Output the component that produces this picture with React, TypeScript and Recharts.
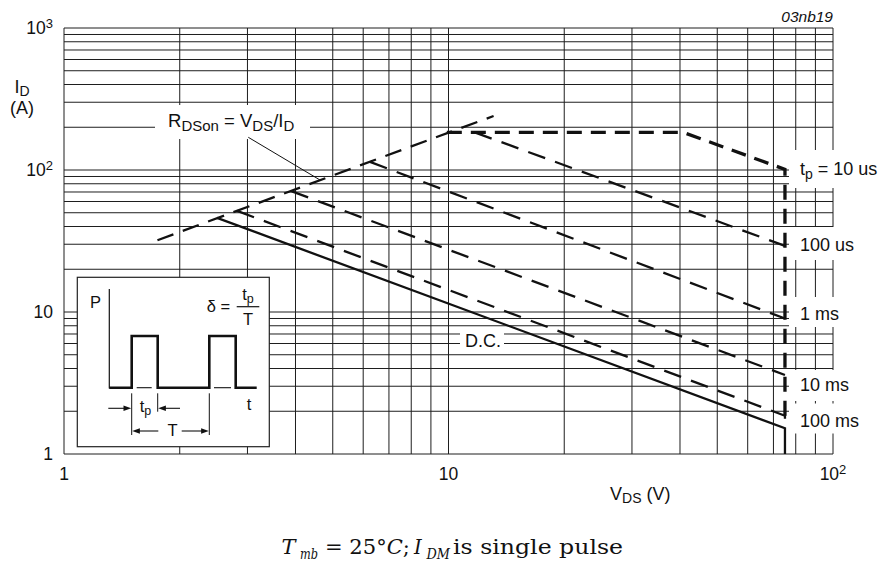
import React from "react";
import { Line, LineChart, ReferenceLine, XAxis, YAxis } from "recharts";

interface Pt { v: number; i: number }

// safe operating area limits (V_DS in V, I_D in A)
const rdsonLimit: Pt[] = [{ v: 1.75, i: 32 }, { v: 13.1, i: 240 }];
const pulse10us: Pt[] = [{ v: 9.9, i: 184 }, { v: 40.8, i: 184 }, { v: 75, i: 101 }, { v: 75, i: 1.86 }];
const pulse100us: Pt[] = [{ v: 11.7, i: 184 }, { v: 75, i: 29.2 }];
const pulse1ms: Pt[] = [{ v: 6.25, i: 114 }, { v: 75, i: 9.0 }];
const pulse10ms: Pt[] = [{ v: 3.9, i: 71 }, { v: 75, i: 3.6 }];
const pulse100ms: Pt[] = [{ v: 2.82, i: 51.5 }, { v: 75, i: 1.86 }, { v: 75, i: 1.52 }];
const dcLimit: Pt[] = [{ v: 2.5, i: 46 }, { v: 75, i: 1.52 }, { v: 75, i: 1 }];

const xTicks = [1, 10, 100];
const yTicks = [1, 10, 100, 1000];
const xGrid = [1, 2, 3, 4, 5, 6, 7, 8, 9, 10, 20, 30, 40, 50, 60, 70, 80, 90, 100];
const yGrid = [
  1, 2, 3, 4, 5, 6, 7, 8, 9, 10, 20, 30, 40, 50, 60, 70, 80, 90,
  100, 200, 300, 400, 500, 600, 700, 800, 900, 1000,
];

const FONT = "'Liberation Sans', Arial, Helvetica, sans-serif";
const SERIF = "'DejaVu Serif', 'Liberation Serif', serif";
const INK = "#111";

const tickText = (value: number) => {
  if (value <= 10) return <>{String(value)}</>;
  const exp = Math.round(Math.log10(value));
  return (
    <>
      10<tspan dy={-6} fontSize={13}>{exp}</tspan>
    </>
  );
};

const renderXTick = (props: any) => {
  const { x, y, payload } = props;
  return (
    <text x={x} y={y + 26} textAnchor="middle" fontSize={17.5} fontFamily={FONT} fill={INK}>
      {tickText(payload.value)}
    </text>
  );
};

const renderYTick = (props: any) => {
  const { x, y, payload } = props;
  return (
    <text x={x - 11} y={y + 6} textAnchor="end" fontSize={17.5} fontFamily={FONT} fill={INK}>
      {tickText(payload.value)}
    </text>
  );
};

const Overlay: React.FC = () => (
  <svg
    width={882}
    height={570}
    style={{ position: "absolute", left: 0, top: 0, pointerEvents: "none" }}
    fontFamily={FONT}
  >
    {/* axis titles */}
    <text x={22} y={93} textAnchor="middle" fontSize={18} fill={INK}>
      I<tspan dy={3} fontSize={14}>D</tspan>
    </text>
    <text x={22} y={114} textAnchor="middle" fontSize={18} fill={INK}>(A)</text>
    <text x={610} y={499.5} fontSize={18} fill={INK}>
      V<tspan dy={3} fontSize={14}>DS</tspan><tspan dy={-3}> (V)</tspan>
    </text>
    <text x={833} y={21.5} textAnchor="end" fontSize={15.5} fontStyle="italic" fill={INK}>03nb19</text>

    {/* R_DSon annotation */}
    <rect x={155} y={105} width={155} height={34} fill="#fff" />
    <text x={168} y={126.7} fontSize={18.5} fill={INK}>
      R<tspan dy={4} fontSize={15}>DSon</tspan>
      <tspan dy={-4}> = V</tspan>
      <tspan dy={4} fontSize={15}>DS</tspan>
      <tspan dy={-4}>/I</tspan>
      <tspan dy={4} fontSize={15}>D</tspan>
    </text>
    <line x1={248.3} y1={137.3} x2={320} y2={180} stroke={INK} strokeWidth={1} />

    {/* D.C. */}
    <rect x={460} y={332} width={44} height={20} fill="#fff" />
    <text x={465} y={346.7} fontSize={18} fill={INK}>D.C.</text>

    {/* pulse duration labels */}
    <rect x={789} y={150} width={93} height={38} fill="#fff" />
    <text x={800} y={175} fontSize={18} fill={INK}>
      t<tspan dy={4} fontSize={14}>p</tspan><tspan dy={-4}> = 10 us</tspan>
    </text>
    <rect x={789} y={227} width={93} height={33} fill="#fff" />
    <text x={800} y={250.7} fontSize={18} fill={INK}>100 us</text>
    <rect x={789} y={297} width={93} height={30} fill="#fff" />
    <text x={800} y={320} fontSize={18} fill={INK}>1 ms</text>
    <rect x={789} y={370} width={93} height={31} fill="#fff" />
    <text x={800} y={390.7} fontSize={18} fill={INK}>10 ms</text>
    <rect x={789} y={403.5} width={93} height={30} fill="#fff" />
    <text x={800} y={426.7} fontSize={18} fill={INK}>100 ms</text>

    {/* inset: pulse definition */}
    <rect x={77.3} y={277.3} width={192} height={169.4} fill="#fff" stroke="#222" strokeWidth={1.2} />
    <text x={90} y={308.3} fontSize={16.5} fill={INK}>P</text>
    <line x1={109.3} y1={289} x2={109.3} y2={388.5} stroke={INK} strokeWidth={1.2} />
    <path
      d="M109.3,387.7 H131.7 V336 H157.7 V387.7 H209.3 V336 H235.7 V387.7 H256.7"
      fill="none"
      stroke={INK}
      strokeWidth={2.6}
    />
    <line x1={136.7} y1={387.7} x2={151.7} y2={387.7} stroke={INK} strokeWidth={1.1} />
    <line x1={214} y1={387.7} x2={231} y2={387.7} stroke={INK} strokeWidth={1.1} />
    <text x={206.7} y={311.7} fontSize={16.5} fill={INK}>δ =</text>
    <line x1={236.7} y1={306.7} x2={259.3} y2={306.7} stroke={INK} strokeWidth={1.2} />
    <text x={248} y={300} textAnchor="middle" fontSize={16.5} fill={INK}>
      t<tspan dy={3} fontSize={12.5}>p</tspan>
    </text>
    <text x={248} y={325} textAnchor="middle" fontSize={16.5} fill={INK}>T</text>
    <text x={249} y={410} textAnchor="middle" fontSize={16.5} fill={INK}>t</text>

    <line x1={131.7} y1={393.3} x2={131.7} y2={435} stroke={INK} strokeWidth={1} />
    <line x1={157.7} y1={393.3} x2={157.7} y2={411.7} stroke={INK} strokeWidth={1} />
    <line x1={209.3} y1={393.3} x2={209.3} y2={435} stroke={INK} strokeWidth={1} />

    <line x1={108.3} y1={408.3} x2={125} y2={408.3} stroke={INK} strokeWidth={1.1} />
    <polygon points="131.2,408.3 123.5,405.6 123.5,411" fill={INK} />
    <line x1={180} y1={408.3} x2={164} y2={408.3} stroke={INK} strokeWidth={1.1} />
    <polygon points="158.2,408.3 165.9,405.6 165.9,411" fill={INK} />
    <text x={145.5} y={411.7} textAnchor="middle" fontSize={16.5} fill={INK}>
      t<tspan dy={3} fontSize={12.5}>p</tspan>
    </text>

    <polygon points="132.2,431 139.9,428.3 139.9,433.7" fill={INK} />
    <line x1={139} y1={431} x2={158.3} y2={431} stroke={INK} strokeWidth={1.1} />
    <line x1={181.7} y1={431} x2={202} y2={431} stroke={INK} strokeWidth={1.1} />
    <polygon points="208.8,431 201.1,428.3 201.1,433.7" fill={INK} />
    <text x={172.5} y={436} textAnchor="middle" fontSize={16.5} fill={INK}>T</text>

    {/* caption */}
    <g fontFamily={SERIF} fontSize={19.5} fill={INK}>
      <text x={281.5} y={554} fontStyle="italic" textLength={14} lengthAdjust="spacingAndGlyphs">T</text>
      <text x={300} y={558.5} fontStyle="italic" fontSize={14} textLength={18} lengthAdjust="spacingAndGlyphs">mb</text>
      <text x={325} y={554} textLength={85} lengthAdjust="spacingAndGlyphs">
        = 25°<tspan fontStyle="italic">C</tspan>;
      </text>
      <text x={414} y={554} fontStyle="italic">I</text>
      <text x={426.5} y={558.5} fontStyle="italic" fontSize={14} textLength={23.5} lengthAdjust="spacingAndGlyphs">DM</text>
      <text x={453} y={554} textLength={170} lengthAdjust="spacingAndGlyphs">is single pulse</text>
    </g>
  </svg>
);

const App: React.FC = () => {
  return (
    <div style={{ position: "absolute", left: 0, top: 0, width: 882, height: 570, background: "#fff" }}>
      <LineChart width={882} height={570} margin={{ top: 28, right: 49, bottom: 86, left: 0 }}>
        <XAxis
          dataKey="v"
          type="number"
          scale="log"
          domain={[1, 100]}
          allowDataOverflow
          ticks={xTicks}
          interval={0}
          tick={renderXTick}
          tickLine={false}
          axisLine={false}
          tickSize={0}
          tickMargin={0}
          height={30}
        />
        <YAxis
          type="number"
          scale="log"
          domain={[1, 1000]}
          allowDataOverflow
          ticks={yTicks}
          interval={0}
          tick={renderYTick}
          tickLine={false}
          axisLine={false}
          tickSize={0}
          tickMargin={0}
          width={64}
        />
        {xGrid.map((v) => (
          <ReferenceLine key={`x${v}`} x={v} stroke="#1e1e1e" strokeWidth={1} />
        ))}
        {yGrid.map((v) => (
          <ReferenceLine key={`y${v}`} y={v} stroke="#1e1e1e" strokeWidth={1} />
        ))}
        <Line data={rdsonLimit} dataKey="i" stroke={INK} strokeWidth={2.3} strokeDasharray="17 10" dot={false} isAnimationActive={false} />
        <Line data={pulse10us} dataKey="i" stroke={INK} strokeWidth={3.3} strokeDasharray="15 9" dot={false} isAnimationActive={false} />
        <Line data={pulse100us} dataKey="i" stroke={INK} strokeWidth={2.3} strokeDasharray="18 10.5" dot={false} isAnimationActive={false} />
        <Line data={pulse1ms} dataKey="i" stroke={INK} strokeWidth={2.3} strokeDasharray="18 10.5" dot={false} isAnimationActive={false} />
        <Line data={pulse10ms} dataKey="i" stroke={INK} strokeWidth={2.3} strokeDasharray="18 10.5" dot={false} isAnimationActive={false} />
        <Line data={pulse100ms} dataKey="i" stroke={INK} strokeWidth={2.3} strokeDasharray="18 10.5" dot={false} isAnimationActive={false} />
        <Line data={dcLimit} dataKey="i" stroke={INK} strokeWidth={2.3} dot={false} isAnimationActive={false} />
      </LineChart>
      <Overlay />
    </div>
  );
};

export default App;
